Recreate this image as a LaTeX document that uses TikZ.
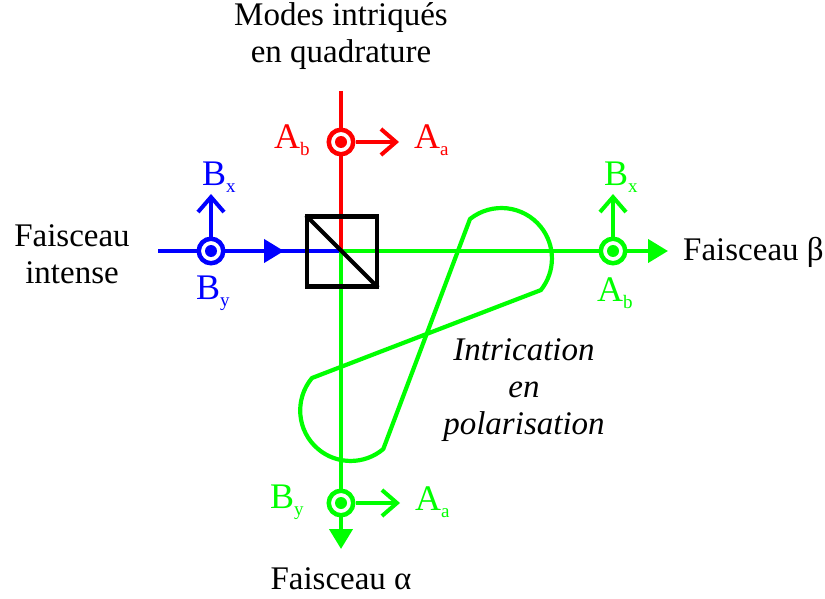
\documentclass[tikz,border=0pt]{standalone}
\usepackage{fontspec}
\setmainfont{Liberation Serif}
\usepackage{xcolor}
\usetikzlibrary{arrows.meta, positioning, calc}
\definecolor{beamred}{RGB}{255,0,0}
\definecolor{beamblue}{RGB}{0,0,255}
\definecolor{beamgreen}{RGB}{0,255,0}
\newcommand{\lab}[2]{{\fontsize{36}{36}\selectfont #1}{\fontsize{19}{19}\selectfont\raisebox{-7pt}{#2}}}

\begin{document}
\begin{tikzpicture}[
  x=1pt, y=-1pt,
  txt/.style={font=\fontsize{33}{37}\selectfont, inner sep=0pt, align=center},
  spin/.style={circle, draw=#1, line width=4.5pt, fill=white, minimum size=24.5pt, inner sep=0pt, text=#1},
  beam/.style={line width=4.2pt, draw=#1},
  arr/.style={-{Stealth[length=20pt, width=23pt, inset=0pt]}, line width=4.2pt, draw=#1},
  vec/.style={-{Straight Barb[length=15pt, width=26pt, line width=4pt]}, line width=4.2pt, draw=#1},
]
\useasboundingbox (0,0) rectangle (825,599);
% Beam ends
\coordinate (cross) at (341,251);
\coordinate (top) at (341,91);
\coordinate (left) at (158,251);
\coordinate (blueh) at (284,251);
\coordinate (right) at (668,251);
\coordinate (bottom) at (341,549);
% Polarisation loop
\draw[beamgreen, line width=4.2pt, line join=round] (470,219) arc[start angle=128.5, end angle=-38.7, radius=50.5pt]
  -- (312,378) arc[start angle=140, end angle=310.2, radius=50.5pt] -- cycle;
% Beams
\draw[beam=beamred] (top) -- (cross);
\draw[beam=beamblue] (left) -- (cross);
\draw[arr=beamblue] (left) -- (blueh);
\draw[arr=beamgreen] (cross) -- (right);
\draw[arr=beamgreen] (cross) -- (bottom);
% Spins
\node[spin=beamred] (sa) at (341,142) {};
\node[spin=beamblue] (sb) at (211,251) {};
\node[spin=beamgreen] (sc) at (613,251) {};
\node[spin=beamgreen] (sd) at (341,503) {};
\foreach \n/\c in {sa/beamred, sb/beamblue, sc/beamgreen, sd/beamgreen}
  \fill[\c] (\n) circle (6pt);
% Transverse vectors
\coordinate (va) at (399,142);
\coordinate (vb) at (211,194);
\coordinate (vc) at (613,194);
\coordinate (vd) at (400,503);
\draw[vec=beamred] (sa) -- (va);
\draw[vec=beamblue] (sb) -- (vb);
\draw[vec=beamgreen] (sc) -- (vc);
\draw[vec=beamgreen] (sd) -- (vd);
% Cube
\node[draw, line width=4.2pt, minimum size=70pt, inner sep=0pt] (cube) at (342,251.5) {};
\draw[line width=4.2pt, shorten <=1.5pt, shorten >=1.5pt] (cube.north west) -- (cube.south east);
% Labels
\node[txt] (modes) at (341,36) {Modes intriqués\\en quadrature};
\node[txt] (intense) at (72,254) {Faisceau\\intense};
\node[txt, anchor=west] (beta) at (683,252) {Faisceau β};
\node[txt] (alpha) at (341,579) {Faisceau α};
\node[txt, font=\fontsize{33}{37}\selectfont\itshape] (intric) at (524,390) {Intrication\\en\\polarisation};
\node[txt, text=beamred, anchor=west] (ab1) at (274,140) {\lab{A}{b}};
\node[txt, text=beamred, anchor=west] (aa1) at (414,140) {\lab{A}{a}};
\node[txt, text=beamblue, anchor=west] (bx1) at (202,177) {\lab{B}{x}};
\node[txt, text=beamblue, anchor=west] (by1) at (196,293) {\lab{B}{y}};
\node[txt, text=beamgreen, anchor=west] (bx2) at (604,177) {\lab{B}{x}};
\node[txt, text=beamgreen, anchor=west] (ab2) at (597,293) {\lab{A}{b}};
\node[txt, text=beamgreen, anchor=west] (by2) at (270,502) {\lab{B}{y}};
\node[txt, text=beamgreen, anchor=west] (aa2) at (415,502) {\lab{A}{a}};
\end{tikzpicture}
\end{document}
